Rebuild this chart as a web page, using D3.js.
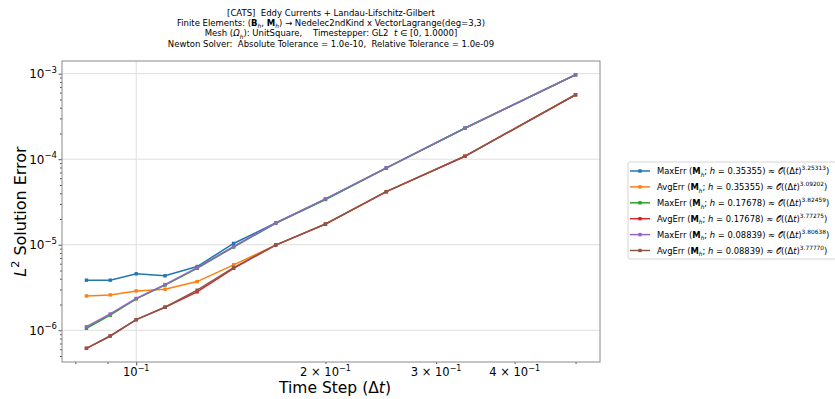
<!DOCTYPE html>
<html>
<head>
<meta charset="utf-8">
<script src="https://cdn.jsdelivr.net/npm/d3@7"></script>
<style>
    body { margin: 0; background: #fff; }
    text { font-family: "DejaVu Sans", sans-serif; white-space: pre; fill: #000; }
</style>
</head>
<body>
<div id="chart"></div>
<script>
// data
var timeSteps = [0.08333, 0.09091, 0.1, 0.11111, 0.125, 0.14286, 0.16667, 0.2, 0.25, 0.33333, 0.5];

var maxErrCoarse = [3.85e-6, 3.85e-6, 4.57e-6, 4.33e-6, 5.56e-6, 1.035e-5, 1.795e-5, 3.40e-5, 7.90e-5, 2.30e-4, 9.70e-4];
var avgErrCoarse = [2.52e-6, 2.59e-6, 2.88e-6, 3.02e-6, 3.71e-6, 5.82e-6, 9.91e-6, 1.74e-5, 4.17e-5, 1.08e-4, 5.66e-4];
var maxErrMedium = [1.055e-6, 1.50e-6, 2.33e-6, 3.38e-6, 5.30e-6, 9.40e-6, 1.78e-5, 3.38e-5, 7.88e-5, 2.30e-4, 9.72e-4];
var avgErrMedium = [6.15e-7, 8.57e-7, 1.33e-6, 1.86e-6, 2.81e-6, 5.30e-6, 9.88e-6, 1.74e-5, 4.17e-5, 1.081e-4, 5.67e-4];
var maxErrFine = [1.10e-6, 1.55e-6, 2.35e-6, 3.42e-6, 5.41e-6, 9.54e-6, 1.795e-5, 3.43e-5, 7.91e-5, 2.305e-4, 9.73e-4];
var avgErrFine = [6.15e-7, 8.57e-7, 1.33e-6, 1.86e-6, 2.94e-6, 5.41e-6, 9.91e-6, 1.746e-5, 4.18e-5, 1.082e-4, 5.67e-4];

var seriesKinds = ["MaxErr", "AvgErr", "MaxErr", "AvgErr", "MaxErr", "AvgErr"];
var seriesH = ["0.35355", "0.35355", "0.17678", "0.17678", "0.08839", "0.08839"];
var seriesRates = ["3.25313", "3.09202", "3.82459", "3.77275", "3.80638", "3.77770"];
var seriesValues = [maxErrCoarse, avgErrCoarse, maxErrMedium, avgErrMedium, maxErrFine, avgErrFine];
var colors = ["#1f77b4", "#ff7f0e", "#2ca02c", "#d62728", "#9467bd", "#8c564b"];

var yMajorTicks = [1e-6, 1e-5, 1e-4, 1e-3];
var yTickExps = ["\u22126", "\u22125", "\u22124", "\u22123"];
var xMajorTicks = [0.1];
var xMinorTicks = [0.08, 0.09, 0.2, 0.3, 0.4, 0.5];
var xMinorLabels = ["", "", "2", "3", "4", ""];

// basic svg
var svgWidth = 835;
var svgHeight = 399;
var margin = { top: 61, left: 62 };
var width = 538;
var height = 301;

var svg = d3.select("#chart")
    .append("svg")
    .attr("width", svgWidth)
    .attr("height", svgHeight);

var chartGroup = svg.append("g")
    .attr("transform", `translate(${margin.left}, ${margin.top})`);

// log scales with 5% padding in log space (like matplotlib)
function paddedLogDomain(vals) {
    var lo = Math.log10(d3.min(vals)), hi = Math.log10(d3.max(vals));
    var pad = (hi - lo) * 0.05;
    return [Math.pow(10, lo - pad), Math.pow(10, hi + pad)];
}

var xScale = d3.scaleLog().domain(paddedLogDomain(timeSteps)).range([0, width]);
var yScale = d3.scaleLog().domain(paddedLogDomain(d3.merge(seriesValues))).range([height, 0]);

// y minor ticks: 2..9 x each decade inside the domain
var yMinorTicks = [];
[1e-7, 1e-6, 1e-5, 1e-4, 1e-3].forEach(function (dec) {
    for (var k = 2; k <= 9; k++) {
        var v = k * dec;
        if (v >= yScale.domain()[0] && v <= yScale.domain()[1]) yMinorTicks.push(v);
    }
});

// grid
chartGroup.selectAll(".hgrid")
    .data(yMajorTicks)
    .enter()
    .append("line")
    .attr("x1", 0).attr("x2", width)
    .attr("y1", d => yScale(d)).attr("y2", d => yScale(d))
    .attr("stroke", "#dedede").attr("stroke-width", 1);

chartGroup.selectAll(".vgrid")
    .data(xMajorTicks)
    .enter()
    .append("line")
    .attr("x1", d => xScale(d)).attr("x2", d => xScale(d))
    .attr("y1", 0).attr("y2", height)
    .attr("stroke", "#dedede").attr("stroke-width", 1);

// axes
var leftAxis = d3.axisLeft(yScale).tickValues(yMajorTicks).tickSize(3.5).tickFormat("");
var leftMinor = d3.axisLeft(yScale).tickValues(yMinorTicks).tickSize(2).tickFormat("");
var bottomAxis = d3.axisBottom(xScale).tickValues(xMajorTicks).tickSize(3.5).tickFormat("");
var bottomMinor = d3.axisBottom(xScale).tickValues(xMinorTicks).tickSize(2).tickFormat("");

[leftAxis, leftMinor].forEach(function (ax) {
    chartGroup.append("g").call(ax).call(g => g.select(".domain").remove())
        .selectAll("line").attr("stroke", "#555");
});
[bottomAxis, bottomMinor].forEach(function (ax) {
    chartGroup.append("g").attr("transform", `translate(0, ${height})`)
        .call(ax).call(g => g.select(".domain").remove())
        .selectAll("line").attr("stroke", "#555");
});

// tick labels with superscripts
yMajorTicks.forEach(function (v, i) {
    var t = chartGroup.append("text")
        .attr("x", -5)
        .attr("y", yScale(v) + 4.5)
        .attr("text-anchor", "end")
        .style("font-size", "12px");
    t.append("tspan").text("10");
    t.append("tspan").attr("dy", -5.5).style("font-size", "8.5px").text(yTickExps[i]);
});

function xTickLabel(v, prefix) {
    var t = chartGroup.append("text")
        .attr("x", xScale(v))
        .attr("y", height + 14)
        .attr("text-anchor", "middle")
        .style("font-size", "11.5px");
    t.append("tspan").text(prefix + "10");
    t.append("tspan").attr("dy", -5).style("font-size", "8px").text("\u22121");
}
xTickLabel(0.1, "");
xMinorTicks.forEach(function (v, i) {
    if (xMinorLabels[i]) xTickLabel(v, xMinorLabels[i] + " \u00d7 ");
});

// frame
chartGroup.append("rect")
    .attr("width", width).attr("height", height)
    .attr("fill", "none").attr("stroke", "#8a8a8a").attr("stroke-width", 1);

// lines and markers
var line = d3.line()
    .x((d, i) => xScale(timeSteps[i]))
    .y(d => yScale(d));

seriesValues.forEach(function (vals, s) {
    chartGroup.append("path")
        .datum(vals)
        .attr("d", line)
        .attr("fill", "none")
        .attr("stroke", colors[s])
        .attr("stroke-width", 1.5);
    chartGroup.selectAll(null)
        .data(vals)
        .enter()
        .append("rect")
        .attr("x", (d, i) => xScale(timeSteps[i]) - 1.7)
        .attr("y", d => yScale(d) - 1.7)
        .attr("width", 3.4).attr("height", 3.4)
        .attr("fill", colors[s]);
});

// rich text helper: segments [text, style]
function richText(sel, segs, size) {
    var sub = size * 0.3, sup = size * 0.45;
    var level = 0;
    segs.forEach(function (sg) {
        var st = sg[1] || "";
        var ts = sel.append("tspan").text(sg[0]);
        if (st.indexOf("b") >= 0) ts.style("font-weight", "bold");
        if (st.indexOf("i") >= 0) ts.style("font-style", "italic");
        var target = 0;
        if (st.indexOf("_") >= 0) target = sub;
        if (st.indexOf("^") >= 0) target = -sup;
        if (target !== 0) ts.style("font-size", (size * 0.7) + "px");
        if (target !== level) ts.attr("dy", target - level);
        level = target;
    });
}

// title
var titleLines = [
    [["[CATS]  Eddy Currents + Landau-Lifschitz-Gilbert"]],
    [["Finite Elements: ("], ["B", "b"], ["h", "i_"], [", "], ["M", "b"], ["h", "i_"], [") \u2192 Nedelec2ndKind x VectorLagrange(deg=3,3)"]],
    [["Mesh ("], ["\u03a9", "i"], ["h", "i_"], ["): UnitSquare,    Timestepper: GL2  "], ["t", "i"], [" \u2208 [0, 1.0000]"]],
    [["Newton Solver:  Absolute Tolerance = 1.0e-10,  Relative Tolerance = 1.0e-09"]]
];
titleLines.forEach(function (segs, i) {
    var t = svg.append("text")
        .attr("x", margin.left + width / 2)
        .attr("y", 15.5 + i * 10.4)
        .attr("text-anchor", "middle")
        .style("font-size", "8.5px");
    richText(t, segs, 8.5);
});

// axis labels
var yl = svg.append("text")
    .attr("transform", `translate(26, ${margin.top + height / 2}) rotate(-90)`)
    .attr("text-anchor", "middle")
    .style("font-size", "16px");
richText(yl, [["L", "i"], ["2", "^"], [" Solution Error"]], 16);

var xl = svg.append("text")
    .attr("x", margin.left + width / 2 + 4)
    .attr("y", 393)
    .attr("text-anchor", "middle")
    .style("font-size", "15.5px");
richText(xl, [["Time Step (\u0394"], ["t", "i"], [")"]], 15.5);

// legend
var legend = svg.append("g").attr("transform", "translate(628, 162)");
legend.append("rect")
    .attr("width", 215).attr("height", 97)
    .attr("rx", 2)
    .attr("fill", "#fff").attr("stroke", "#d5d5d5").attr("stroke-width", 1);

seriesKinds.forEach(function (kind, s) {
    var row = legend.append("g").attr("transform", `translate(0, ${9 + s * 15.9})`);
    row.append("line")
        .attr("x1", 2).attr("x2", 22)
        .attr("stroke", colors[s]).attr("stroke-width", 1.5);
    row.append("rect")
        .attr("x", 10.3).attr("y", -1.7).attr("width", 3.4).attr("height", 3.4)
        .attr("fill", colors[s]);
    var t = row.append("text").attr("x", 29).attr("y", 3.2).style("font-size", "8.4px");
    richText(t, [[kind + " ("], ["M", "b"], ["h", "i_"], ["; "], ["h", "i"], [" = " + seriesH[s] + ") \u2248 "],
        ["\ud835\udcaa((\u0394"], ["t", "i"], [")"], [seriesRates[s], "^"], [")"]], 8.4);
});
</script>
</body>
</html>
